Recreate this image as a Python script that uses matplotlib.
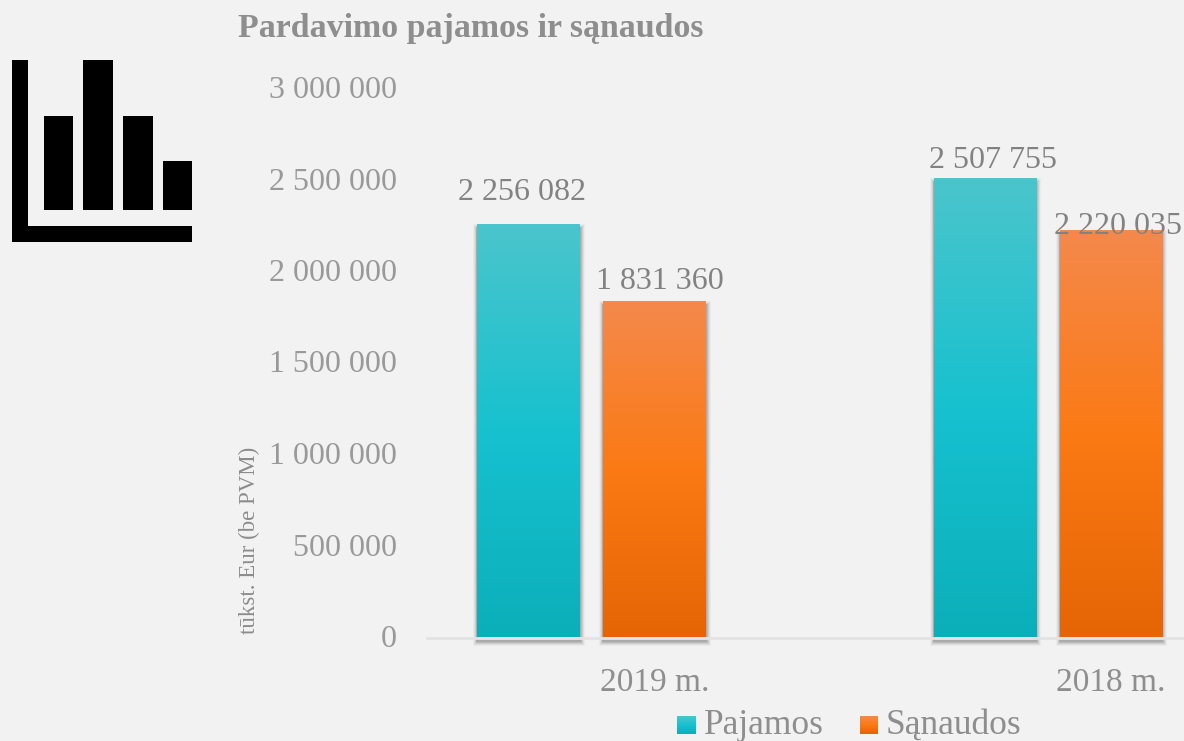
import numpy as np
import matplotlib
matplotlib.use("Agg")
import matplotlib.pyplot as plt
from matplotlib.colors import LinearSegmentedColormap
from matplotlib.patches import Rectangle
from matplotlib.legend_handler import HandlerBase
from matplotlib.transforms import ScaledTranslation

W, H = 1184, 741
BG = "#F2F2F2"

categories = ["2019 m.", "2018 m."]
pajamos = [2256082, 2507755]
sanaudos = [1831360, 2220035]
series_names = ["Pajamos", "Sąnaudos"]
y_ticks = [0, 500000, 1000000, 1500000, 2000000, 2500000, 3000000]

pajamos_stops = ["#4BC5CC", "#17C1CF", "#0BAFBA"]
sanaudos_stops = ["#F4894C", "#FB7A14", "#E56505"]

# label offsets from the top-centre of each bar, in pixels (x, y)
pajamos_label_offsets = [(-7, 32), (8, 18)]
sanaudos_label_offsets = [(5, 21), (7, 5)]

# decorative icon, px: x0, y0, x1, y1
icon_rects = [(12, 60, 28, 242), (12, 226, 192, 242), (44, 116, 73, 210),
              (83, 60, 113, 210), (123, 116, 153, 210), (163, 161, 192, 210)]

plt.rcParams["font.family"] = ["Liberation Serif", "DejaVu Serif"]


def fmt(v):
    return f"{v:,}".replace(",", " ")


def cmap_of(stops):
    return LinearSegmentedColormap.from_list("g", [(0, stops[0]), (0.5, stops[1]), (1, stops[2])])


fig = plt.figure(figsize=(W / 100, H / 100), dpi=100, facecolor=BG)
ax = fig.add_axes([427 / W, 1 - 637.5 / H, (W - 427) / W, 549 / H], facecolor="none")

group_px = 456.5
x_left = -(591.5 - 427) / group_px
x_right = (W - 591.5) / group_px
bar_w = 102.5 / group_px
off = 63 / group_px
x = np.arange(len(categories))

grad = np.linspace(0, 1, 256).reshape(-1, 1)
px = 1 / 100 * 72  # points per pixel
shadow_shift = ScaledTranslation(0, -3 / 100, fig.dpi_scale_trans)

for vals, stops, sign, offsets in [(pajamos, pajamos_stops, -1, pajamos_label_offsets),
                                   (sanaudos, sanaudos_stops, 1, sanaudos_label_offsets)]:
    for xi, v, (dx, dy) in zip(x, vals, offsets):
        x0 = xi + sign * off - bar_w / 2
        for lw, a in [(9, 0.03), (7, 0.05), (5, 0.07), (3, 0.09), (1.5, 0.11)]:
            ax.add_patch(Rectangle((x0, 0), bar_w, v, facecolor="none",
                                   edgecolor=(0, 0, 0, a), linewidth=lw * px, zorder=1,
                                   transform=ax.transData + shadow_shift, clip_on=False))
        ax.imshow(grad, cmap=cmap_of(stops), extent=(x0, x0 + bar_w, 0, v),
                  aspect="auto", origin="upper", zorder=2, interpolation="nearest")
        ax.annotate(fmt(v), (xi + sign * off, v), xytext=(dx * px, dy * px),
                    textcoords="offset points", ha="center", va="center",
                    fontsize=23, color="#828282", zorder=5, annotation_clip=False)

ax.set_xlim(x_left, x_right)
ax.set_ylim(0, 3000000)
ax.set_xticks(x + off)
ax.set_xticklabels(categories)
ax.set_yticks(y_ticks)
ax.set_yticklabels([fmt(t) for t in y_ticks])
ax.tick_params(axis="x", length=0, pad=21.5, labelsize=24, labelcolor="#8E8E8E")
ax.tick_params(axis="y", length=0, pad=21.5, labelsize=23, labelcolor="#999999")
up = ScaledTranslation(0, 1.5 / 100, fig.dpi_scale_trans)
for lab in ax.get_yticklabels():
    lab.set_transform(lab.get_transform() + up)
for s in ["top", "left", "right"]:
    ax.spines[s].set_visible(False)
ax.spines["bottom"].set_color("#E3E3E3")
ax.spines["bottom"].set_linewidth(2)
ax.spines["bottom"].set_zorder(3)

fig.text(249 / W, 1 - 540 / H, "tūkst. Eur (be PVM)", rotation=90, ha="center",
         va="center", fontsize=16.5, color="#8C8C8C")
fig.text(238 / W, 1 - 29 / H, "Pardavimo pajamos ir sąnaudos", ha="left", va="center",
         fontsize=24.4, fontweight="bold", color="#8E8E8E")

# icon
ico = fig.add_axes([0, 0, 1, 1], facecolor="none")
ico.set_xlim(0, W)
ico.set_ylim(H, 0)
ico.axis("off")
for x0, y0, x1, y1 in icon_rects:
    ico.add_patch(Rectangle((x0, y0), x1 - x0, y1 - y0, facecolor="black", edgecolor="none"))


class GradHandler(HandlerBase):
    def __init__(self, stops):
        super().__init__()
        self.cm = cmap_of(stops)

    def create_artists(self, legend, orig, xd, yd, w, h, fs, trans):
        n = 24
        out = []
        side = w
        top = -yd + h / 2 + side / 2 - 2.6
        for i in range(n):
            out.append(Rectangle((-xd, top - (i + 1) * side / n), side, side / n + 0.3,
                                 facecolor=self.cm(i / (n - 1)), edgecolor="none",
                                 transform=trans))
        return out


h1 = Rectangle((0, 0), 1, 1)
h2 = Rectangle((0, 0), 1, 1)
leg = fig.legend([h1, h2], series_names, loc="center", bbox_to_anchor=(849.5 / W, 1 - 725.5 / H),
                 frameon=False, fontsize=25.5, labelcolor="#8E8E8E", ncol=2,
                 handlelength=0.51, handleheight=0.55, handletextpad=0.23,
                 columnspacing=1.02, borderpad=0,
                 handler_map={h1: GradHandler(pajamos_stops), h2: GradHandler(sanaudos_stops)})

fig.savefig("out.png", dpi=100, facecolor=BG)
